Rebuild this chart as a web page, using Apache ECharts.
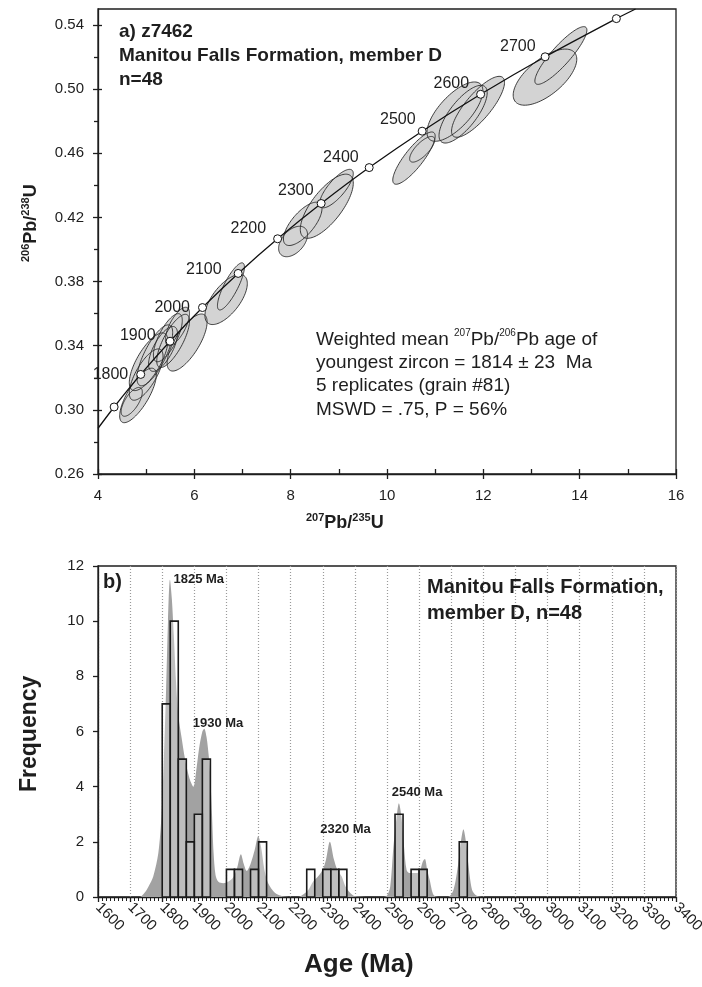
<!DOCTYPE html>
<html><head><meta charset="utf-8">
<script src="https://cdn.jsdelivr.net/npm/echarts@6/dist/echarts.min.js"></script>
<style>html,body{margin:0;padding:0;background:#fff}#c{width:702px;height:987px}</style>
</head><body><div id="c"></div>
<script>
// ================= DATA =================
// Concordia reference points (age in Ma) read from the open circles
const concordiaAges = [1700,1800,1900,2000,2100,2200,2300,2400,2500,2600,2700,2800];
const concordiaX = [4.335,4.887,5.496,6.169,6.910,7.729,8.633,9.630,10.730,11.944,13.283,14.762];
const concordiaY = [0.3018,0.3221,0.3428,0.3638,0.3851,0.4067,0.4287,0.4511,0.4738,0.4968,0.5202,0.5440];
// where the concordia line leaves the plot frame
const concordiaStart = [4.0, 0.2885];
const concordiaEnd = [15.16, 0.55];
const labelledAges = [1800,1900,2000,2100,2200,2300,2400,2500,2600,2700];

// Error ellipses: centre x, centre y, half-extent x, half-extent y, correlation
const ellCX  = [4.70, 4.83, 5.00, 5.05, 5.18, 5.35, 5.45, 5.56, 5.65, 5.85, 6.66, 6.76, 8.05, 8.25, 8.75, 8.95, 10.56, 10.73, 11.41, 11.58, 11.89, 13.28, 13.61];
const ellCY  = [0.305,0.309,0.322,0.330,0.334,0.338,0.345,0.343,0.352,0.342,0.3688,0.377,0.405,0.416,0.427,0.438,0.457,0.4625,0.486,0.4844,0.489,0.5075,0.521];
const ellSX  = [0.22, 0.38, 0.35, 0.40, 0.37, 0.30, 0.30, 0.34, 0.25, 0.415,0.44, 0.28, 0.30, 0.40, 0.55, 0.35, 0.44, 0.26, 0.58, 0.50, 0.55, 0.66, 0.54];
const ellSY  = [0.009,0.017,0.016,0.018,0.019,0.014,0.015,0.0166,0.012,0.0178,0.0156,0.0147,0.0095,0.0135,0.020,0.012,0.0163,0.008,0.0185,0.018,0.019,0.0175,0.018];
const ellRho = [0.68, 0.75, 0.72, 0.72, 0.75, 0.68, 0.72, 0.75, 0.68, 0.72, 0.64, 0.82, 0.45, 0.70, 0.72, 0.78, 0.84, 0.74, 0.70, 0.74, 0.80, 0.64, 0.88];

// Histogram (25 Ma bins)
const binStart = [1800,1825,1850,1875,1900,1925,2000,2025,2075,2100,2250,2300,2325,2350,2525,2575,2600,2725];
const binFreq  = [7,10,5,2,3,5,1,1,1,2,1,1,1,1,3,1,1,2];
const binWidth = 25;

// Probability density curve (scaled to frequency)
const pdfAge = [1600,1730,1745,1757,1772,1788,1798,1805,1812,1818,1824,1830,1836,1843,1850,1860,1871,1885,1897,1905,1915,1925,1931,1938,1945,1950,1955,1960,1966,1975,1990,2005,2020,2032,2045,2054,2063,2075,2088,2099,2108,2118,2128,2140,2155,2175,2200,2224,2240,2255,2270,2285,2300,2310,2322,2335,2345,2359,2370,2385,2400,2490,2500,2510,2520,2530,2537,2545,2553,2561,2570,2585,2600,2612,2618,2625,2633,2645,2660,2690,2707,2722,2730,2738,2746,2753,2765,2778,2795,3400];
const pdfVal = [0,0,0.15,0.37,0.74,1.6,3.0,5.0,7.5,10.0,11.5,10.8,9.5,7.8,6.6,5.8,5.0,4.3,4.0,4.5,5.4,6.0,6.1,5.8,5.1,4.3,3.0,1.6,0.8,0.55,0.5,0.55,0.7,1.0,1.55,1.2,0.95,1.2,1.7,2.2,1.8,1.0,0.55,0.3,0.12,0.03,0,0,0.1,0.25,0.56,0.74,1.0,1.35,2.0,1.35,1.0,0.74,0.4,0.15,0.03,0,0.05,0.37,1.83,2.9,3.4,2.9,1.83,0.98,0.87,0.87,0.9,1.3,1.38,1.0,0.62,0.07,0,0,0.25,1.22,2.0,2.46,2.0,1.22,0.25,0.05,0,0];

// Axis ticks
const topXMajor = [4,6,8,10,12,14,16];
const topXMinor = [5,7,9,11,13,15];
const topYMajor = [0.26,0.30,0.34,0.38,0.42,0.46,0.50,0.54];
const topYMinor = [0.28,0.32,0.36,0.40,0.44,0.48,0.52];

// Annotations
const peakLabels = ['1825 Ma','1930 Ma','2320 Ma','2540 Ma'];
const peakLabelAt = [[1835,11.5],[1895,6.3],[2292,2.45],[2515,3.8]];

// ================= STYLE / LAYOUT =================
const FONT = '"Liberation Sans", Arial, Helvetica, sans-serif';
const ink = '#1e1e1e';
// label offsets [distance from circle, vertical shift] for age labels
const ageLabelOffset = {1800:[8,0],1900:[10,-6],2000:[8,0],2100:[12,-4],2200:[7,-10],2300:[3,-13],2400:[6,-10],2500:[2,-12],2600:[7,-11],2700:[5,-10]};

const chart = echarts.init(document.getElementById('c'), null, {renderer:'canvas'});

const concordiaLine = [concordiaStart].concat(concordiaX.map((x,i)=>[x, concordiaY[i]])).concat([concordiaEnd]);
const circles = concordiaAges.map((a,i)=>({value:[concordiaX[i], concordiaY[i]], age:a}));
const ellipses = ellCX.map((x,i)=>[x, ellCY[i], ellSX[i], ellSY[i], ellRho[i]]);
const bars = binStart.map((s,i)=>[s, s+binWidth, binFreq[i]]);
const pdf = pdfAge.map((a,i)=>[a, pdfVal[i]]);

function ellipsePts(api){
  const cx=api.value(0), cy=api.value(1), sx=api.value(2), sy=api.value(3), r=api.value(4);
  const k=Math.sqrt(1-r*r); const pts=[];
  for(let i=0;i<96;i++){const t=i/96*Math.PI*2;
    pts.push(api.coord([cx+sx*Math.cos(t), cy+sy*(r*Math.cos(t)+k*Math.sin(t))]));}
  return pts;
}

const axisLbl = {color:ink, fontFamily:FONT, fontSize:15};
const lineSt = {color:ink, width:1.3};

const option = {
  animation:false,
  grid:[
    {left:98, top:9, width:578, height:465, show:true, borderColor:ink, borderWidth:1.3, backgroundColor:'transparent', outerBoundsMode:'none', containLabel:false},
    {left:98, top:566, width:578, height:331, show:true, borderColor:ink, borderWidth:1.3, backgroundColor:'transparent', outerBoundsMode:'none', containLabel:false}
  ],
  xAxis:[
    {gridIndex:0, type:'value', min:4, max:16, interval:2, axisLine:{lineStyle:lineSt},
     axisTick:{customValues:topXMajor, length:5, lineStyle:lineSt},
     axisLabel:{customValues:topXMajor, margin:14, ...axisLbl}, splitLine:{show:false}},
    {gridIndex:0, type:'value', min:4, max:16, interval:2, position:'bottom', axisLine:{show:false},
     axisTick:{customValues:topXMajor.concat(topXMinor), inside:true, length:5, lineStyle:lineSt},
     axisLabel:{show:false}, splitLine:{show:false}},
    {gridIndex:1, type:'value', min:1600, max:3400, interval:100, axisLine:{lineStyle:lineSt},
     axisTick:{length:5, lineStyle:lineSt},
     minorTick:{show:true, splitNumber:8, length:4, lineStyle:{color:ink, width:1}},
     axisLabel:{rotate:-45, margin:8, formatter:v=>String(v), ...axisLbl},
     splitLine:{show:true, lineStyle:{color:'#9a9a9a', type:[1,2], width:1.2}}}
  ],
  yAxis:[
    {gridIndex:0, type:'value', min:0.26, max:0.55, interval:0.04, axisLine:{lineStyle:lineSt},
     axisTick:{customValues:topYMajor, length:5, lineStyle:lineSt},
     axisLabel:{customValues:topYMajor, margin:14, formatter:v=>v.toFixed(2), ...axisLbl}, splitLine:{show:false}},
    {gridIndex:0, type:'value', min:0.26, max:0.55, interval:0.04, position:'left', axisLine:{show:false},
     axisTick:{customValues:topYMinor, length:4, lineStyle:lineSt},
     axisLabel:{show:false}, splitLine:{show:false}},
    {gridIndex:0, type:'value', min:0.26, max:0.55, interval:0.04, position:'left', axisLine:{show:false},
     axisTick:{customValues:topYMajor, inside:true, length:4, lineStyle:lineSt},
     axisLabel:{show:false}, splitLine:{show:false}},
    {gridIndex:1, type:'value', min:0, max:12, interval:2, axisLine:{lineStyle:lineSt},
     axisTick:{length:5, lineStyle:lineSt}, axisLabel:{margin:14, ...axisLbl}, splitLine:{show:false}}
  ],
  series:[
    {type:'custom', xAxisIndex:0, yAxisIndex:0, data:ellipses, clip:true, z:2,
     renderItem:(p,api)=>({type:'polygon', shape:{points:ellipsePts(api)}, style:{fill:'#d3d3d3', stroke:null}})},
    {type:'custom', xAxisIndex:0, yAxisIndex:0, data:ellipses, clip:true, z:3,
     renderItem:(p,api)=>({type:'polygon', shape:{points:ellipsePts(api)}, style:{fill:null, stroke:'#2a2a2a', lineWidth:0.9}})},
    {type:'line', xAxisIndex:0, yAxisIndex:0, data:concordiaLine, showSymbol:false, smooth:0.2, clip:true, z:4,
     lineStyle:{color:'#111', width:1.3}},
    {type:'scatter', xAxisIndex:0, yAxisIndex:0, data:circles, symbol:'circle', symbolSize:8, z:5,
     itemStyle:{color:'#fff', borderColor:'#111', borderWidth:1, opacity:1},
     label:{show:true, position:'left', color:ink, fontFamily:FONT, fontSize:16,
       formatter:p=>labelledAges.includes(p.data.age)?String(p.data.age):''}},
    {type:'line', xAxisIndex:2, yAxisIndex:3, data:pdf, showSymbol:false, smooth:0.3, z:2,
     lineStyle:{width:0, color:'#a2a2a2'}, areaStyle:{color:'#a2a2a2', opacity:1}},
    {type:'custom', xAxisIndex:2, yAxisIndex:3, data:bars, z:3,
     renderItem:(p,api)=>{const a=api.coord([api.value(0), api.value(2)]), b=api.coord([api.value(1), 0]);
       return {type:'rect', shape:{x:a[0], y:a[1], width:b[0]-a[0], height:b[1]-a[1]},
         style:{fill:'rgba(255,255,255,0.3)', stroke:'#1a1a1a', lineWidth:1.6}};}}
  ],
  graphic:[]
};

// per-label placement for the age labels
option.series[3].data = circles.map(c=>{
  const o = ageLabelOffset[c.age];
  return o ? {...c, label:{distance:o[0], offset:[0,o[1]]}} : c;
});

const G = option.graphic;
const boldTxt = (x,y,t,fs)=>G.push({type:'text', left:x, top:y, z:50, style:{text:t, font:`bold ${fs}px ${FONT}`, fill:ink}});
// top panel
boldTxt(119,22,'a) z7462',19);
boldTxt(119,46,'Manitou Falls Formation, member D',19);
boldTxt(119,70,'n=48',19);
G.push({type:'text', left:316, top:328, z:50, style:{
  text:'Weighted mean {s|207}Pb/{s|206}Pb age of\nyoungest zircon = 1814 ± 23  Ma\n5 replicates (grain #81)\nMSWD = .75, P = 56%',
  font:`19px ${FONT}`, fill:ink, lineHeight:23.3,
  rich:{s:{fontSize:10, fontFamily:FONT, fill:ink, verticalAlign:'top', lineHeight:10}}}});
// x title top
G.push({type:'text', left:306, top:512, z:50, style:{
  text:'{s|207}{b|Pb/}{s|235}{b|U}', rich:{s:{fontSize:11, fontWeight:'bold', fontFamily:FONT, fill:ink, verticalAlign:'top', lineHeight:11},
  b:{fontSize:18, fontWeight:'bold', fontFamily:FONT, fill:ink, lineHeight:22}}}});
// y title top
G.push({type:'text', x:20, y:262, rotation:Math.PI/2, z:50, style:{
  text:'{s|206}{b|Pb/}{s|238}{b|U}', rich:{s:{fontSize:11, fontWeight:'bold', fontFamily:FONT, fill:ink, verticalAlign:'top', lineHeight:11},
  b:{fontSize:18, fontWeight:'bold', fontFamily:FONT, fill:ink, lineHeight:22}}}});
// bottom panel
boldTxt(103,572,'b)',20);
boldTxt(427,577,'Manitou Falls Formation,',20);
boldTxt(427,603,'member D, n=48',20);
G.push({type:'text', x:18, y:792, rotation:Math.PI/2, z:50, style:{text:'Frequency', font:`bold 23px ${FONT}`, fill:ink}});
boldTxt(304,952,'Age (Ma)',26);

chart.setOption(option);
// peak labels positioned via axis coordinates
const peakG = peakLabels.map((t,i)=>{
  const p = chart.convertToPixel({xAxisIndex:2, yAxisIndex:3}, peakLabelAt[i]);
  return {type:'text', x:p[0], y:p[1], z:50, style:{text:t, font:`bold 13px ${FONT}`, fill:ink, textVerticalAlign:'middle'}};
});
chart.setOption({graphic:G.concat(peakG)});
</script></body></html>
